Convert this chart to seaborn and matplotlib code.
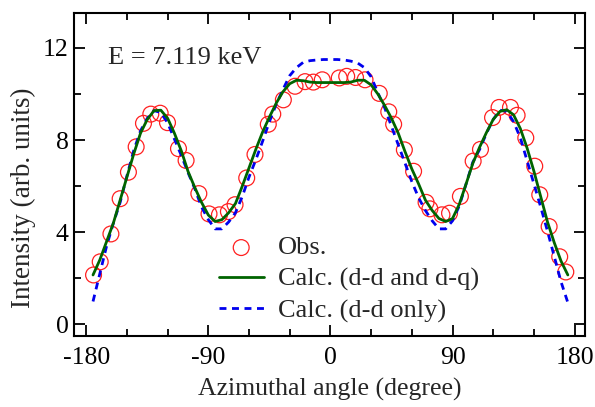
import numpy as np
import pandas as pd
import matplotlib
matplotlib.use('Agg')
import matplotlib.pyplot as plt
import seaborn as sns

# observed intensities (red circles)
obs_angle = [-174.6, -169.7, -161.8, -155.0, -148.9, -143.2, -137.8, -132.4, -125.5, -120.1,
             -112.0, -106.4, -97.0, -89.5, -81.8, -75.2, -70.3, -61.7, -55.6, -45.8,
             -42.5, -34.7, -26.1, -18.7, -12.6, -6.0, 6.5, 12.0, 18.5, 25.5,
             36.0, 43.0, 46.6, 54.5, 61.3, 70.5, 73.3, 82.2, 87.8, 95.8,
             105.2, 110.6, 119.5, 124.3, 132.7, 137.6, 144.0, 150.6, 154.3, 161.2,
             169.0, 173.5]
obs_value = [2.15, 2.72, 3.93, 5.46, 6.61, 7.71, 8.73, 9.13, 9.17, 8.76,
             7.63, 7.12, 5.68, 4.80, 4.76, 4.90, 5.20, 6.36, 7.38, 8.69,
             9.13, 9.75, 10.34, 10.54, 10.52, 10.62, 10.70, 10.77, 10.72, 10.62,
             10.03, 9.23, 8.69, 7.58, 6.65, 5.30, 5.02, 4.76, 4.83, 5.56,
             7.09, 7.60, 8.98, 9.42, 9.42, 9.08, 8.10, 6.87, 5.63, 4.25,
             2.94, 2.28]

# calculated curves, read every 5 degrees from -175 to 175
calc_angle = list(range(-175, 180, 5))
calc_ddq = [2.15, 2.8, 3.6, 4.4, 5.4, 6.4, 7.4, 8.3, 8.9, 9.28,
            9.3, 8.95, 8.3, 7.55, 6.65, 5.95, 5.3, 4.75, 4.47, 4.55,
            4.85, 5.25, 6.0, 6.8, 7.6, 8.35, 9.0, 9.6, 10.1, 10.45,
            10.6, 10.58, 10.52, 10.5, 10.5, 10.5, 10.5, 10.5, 10.52, 10.6,
            10.6, 10.4, 10.0, 9.5, 8.95, 8.3, 7.5, 6.75, 6.1, 5.4,
            4.95, 4.6, 4.47, 4.6, 5.22, 6.1, 7.0, 7.7, 8.33, 8.9,
            9.25, 9.32, 9.1, 8.5, 7.65, 6.65, 5.55, 4.45, 3.55, 2.75,
            2.15]
calc_dd = [1.0, 2.2, 3.4, 4.4, 5.3, 6.45, 7.55, 8.4, 8.95, 9.28,
           9.2, 8.75, 8.05, 7.35, 6.6, 5.9, 5.1, 4.55, 4.15, 4.15,
           4.45, 4.85, 5.55, 6.4, 7.15, 7.95, 8.8, 9.55, 10.2, 10.8,
           11.15, 11.38, 11.45, 11.48, 11.5, 11.5, 11.5, 11.48, 11.43, 11.35,
           11.15, 10.75, 10.05, 9.4, 8.6, 7.8, 7.0, 6.2, 5.5, 4.95,
           4.5, 4.15, 4.15, 4.5, 5.15, 6.1, 7.05, 7.6, 8.3, 8.9,
           9.3, 9.25, 8.8, 8.1, 7.1, 6.1, 5.1, 4.05, 2.95, 1.85,
           0.95]

obs = pd.DataFrame({'angle': obs_angle, 'intensity': obs_value})
calc = pd.DataFrame({'angle': calc_angle, 'ddq': calc_ddq, 'dd': calc_dd})

sns.set_style('ticks')
plt.rcParams['font.family'] = ['Liberation Serif', 'DejaVu Serif']
plt.rcParams['axes.unicode_minus'] = False

fig = plt.figure(figsize=(5.95, 4.07), dpi=100)
ax = fig.add_axes([0.1244, 0.1744, 0.8596, 0.7926])

sns.scatterplot(data=obs, x='angle', y='intensity', ax=ax, marker='o', s=130,
                facecolor='none', edgecolor='#ff2020', linewidth=0.9,
                label='Obs.', zorder=2)
sns.lineplot(data=calc, x='angle', y='ddq', ax=ax, color='#006400', linewidth=2.0,
             label='Calc. (d-d and d-q)', sort=False, estimator=None, zorder=4)
sns.lineplot(data=calc, x='angle', y='dd', ax=ax, color='#0000ee', linewidth=2.0,
             linestyle=(0, (2.5, 2.0)), label='Calc. (d-d only)', sort=False,
             estimator=None, zorder=3)

ax.set_xlim(-189, 188)
ax.set_ylim(-0.5, 13.5)
ax.set_xticks([-180, -90, 0, 90, 180])
ax.set_xticks(np.arange(-180, 181, 30), minor=True)
ax.set_yticks([0, 4, 8, 12])
ax.set_yticks([2, 6, 10], minor=True)
ax.tick_params(which='both', direction='in', top=True, right=True, width=1.3,
               labelsize=18.5, colors='black')
ax.tick_params(axis='x', pad=8)
ax.tick_params(axis='y', pad=4)
ax.tick_params(which='major', length=8)
ax.tick_params(which='minor', length=5)
for sp in ax.spines.values():
    sp.set_linewidth(1.5)
    sp.set_color('black')

ax.set_xlabel('Azimuthal angle (degree)', fontsize=18.5, labelpad=6)
ax.set_ylabel('Intensity (arb. units)', fontsize=19.5)
ax.yaxis.set_label_coords(-0.075, 0.43)
ax.text(0.066, 0.863, 'E = 7.119 keV', transform=ax.transAxes, fontsize=19,
        va='center', ha='left')

ax.legend(loc='upper left', bbox_to_anchor=(0.283, 0.31), frameon=False, fontsize=19,
          handlelength=1.7, handletextpad=0.55, labelspacing=0.3, borderpad=0,
          borderaxespad=0)

fig.savefig('out.png', dpi=100)
